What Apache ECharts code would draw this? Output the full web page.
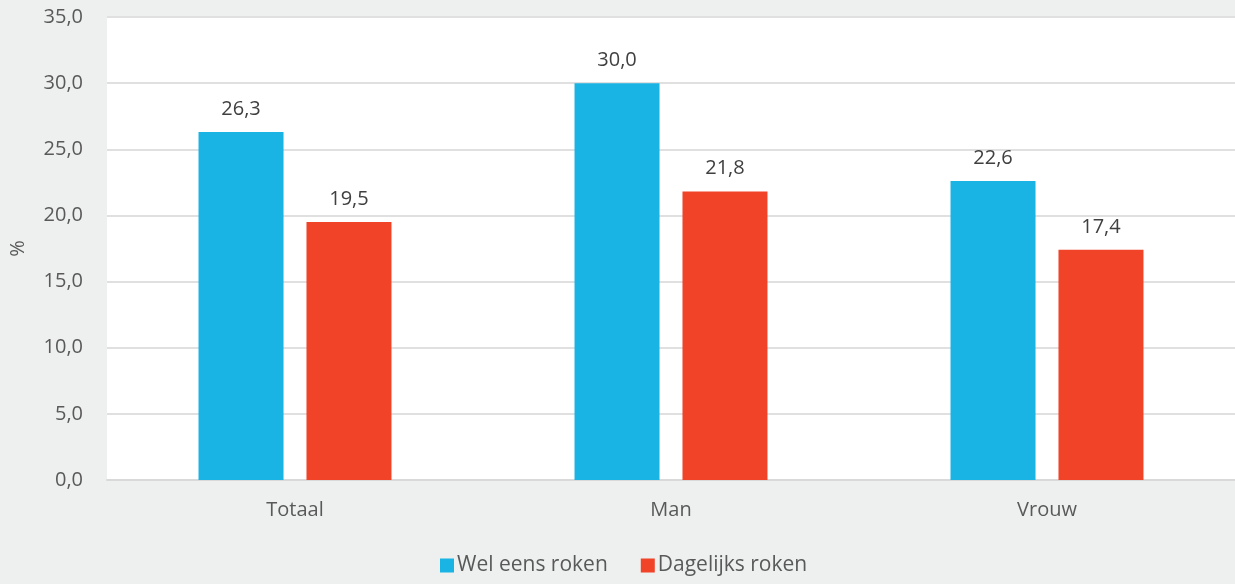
<!DOCTYPE html>
<html><head><meta charset="utf-8">
<script src="https://cdn.jsdelivr.net/npm/echarts@6/dist/echarts.min.js"></script>
<style>html,body{margin:0;padding:0;background:#eef0ef;}#c{width:1235px;height:584px;}</style>
</head><body><div id="c"></div>
<script>
var categories = ['Totaal', 'Man', 'Vrouw'];
var welEens = [26.3, 30.0, 22.6];
var dagelijks = [19.5, 21.8, 17.4];
var yTicks = { min: 0, max: 35, interval: 5 };

var fmt = function (v) { return Number(v).toFixed(1).replace('.', ','); };
var chart = echarts.init(document.getElementById('c'));
var font = '"Open Sans", "Noto Sans", sans-serif';
chart.setOption({
  backgroundColor: '#eef0ef',
  animation: false,
  textStyle: { fontFamily: font },
  grid: { left: 107, right: 0, top: 17, bottom: 104, show: true, backgroundColor: '#ffffff', borderWidth: 0 },
  legend: {
    bottom: 3, left: 435, itemWidth: 14, itemHeight: 14, itemGap: 33,
    icon: 'rect',
    textStyle: { fontSize: 21, color: '#595959', fontFamily: font, padding: [0, 0, 0, -2] }
  },
  xAxis: {
    type: 'category', data: categories,
    axisLine: { lineStyle: { color: '#d9d9d9', width: 2 } },
    axisTick: { show: false },
    axisLabel: { fontSize: 20, color: '#595959', margin: 20, fontFamily: font }
  },
  yAxis: {
    type: 'value', min: yTicks.min, max: yTicks.max, interval: yTicks.interval,
    name: '%', nameLocation: 'middle', nameGap: 79, nameRotate: 90,
    nameTextStyle: { fontSize: 20, color: '#595959', fontFamily: font },
    axisLine: { show: false }, axisTick: { show: false },
    axisLabel: { fontSize: 20, color: '#595959', margin: 24, formatter: fmt, fontFamily: font },
    splitLine: { lineStyle: { color: '#e0e0e0', width: 2 } }
  },
  series: [
    { name: 'Wel eens roken', type: 'bar', data: welEens, barWidth: 85, barGap: '27%',
      itemStyle: { color: '#1ab4e4' },
      label: { show: true, position: 'top', distance: 13, formatter: function (p) { return fmt(p.value); }, fontSize: 20, color: '#404040', fontFamily: font } },
    { name: 'Dagelijks roken', type: 'bar', data: dagelijks, barWidth: 85,
      itemStyle: { color: '#f04328' },
      label: { show: true, position: 'top', distance: 13, formatter: function (p) { return fmt(p.value); }, fontSize: 20, color: '#404040', fontFamily: font } }
  ]
});
</script></body></html>
